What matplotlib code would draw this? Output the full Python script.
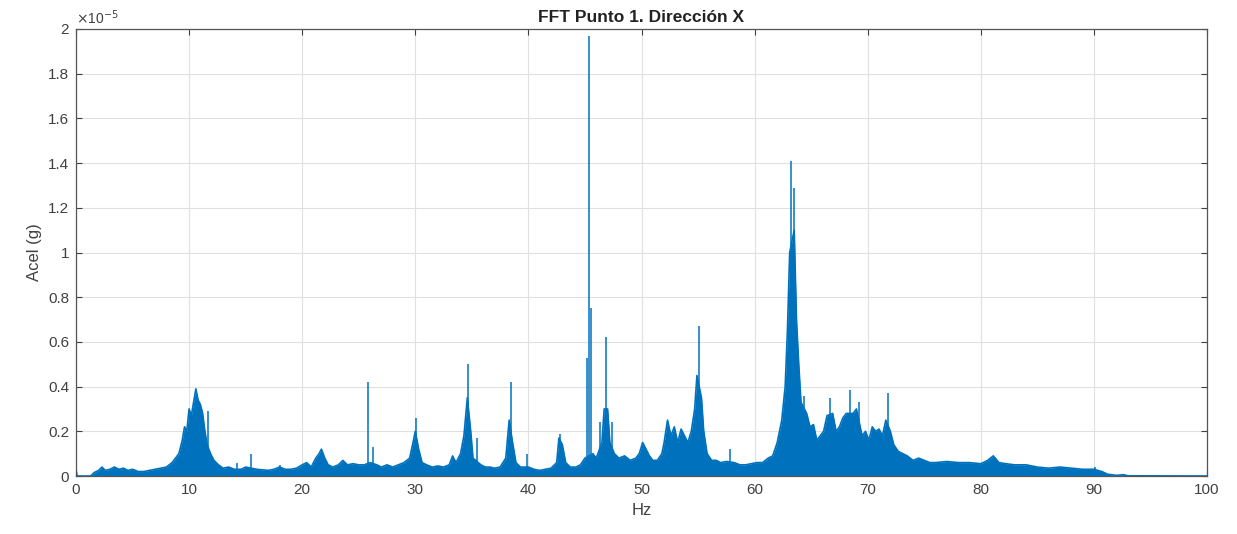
import numpy as np
import matplotlib.pyplot as plt

plt.rcParams['font.family'] = ['Liberation Sans', 'DejaVu Sans']

# broadband part of the spectrum (Hz, acceleration in units of 1e-5 g)
freq_env = [0.0, 0.1, 1.3, 1.6, 2.0, 2.3, 2.6, 3.0, 3.4, 3.8, 4.2, 4.6, 5.0, 5.5, 6.0,
            6.5, 7.0, 7.5, 8.0, 8.5, 8.8, 9.1, 9.4, 9.6, 9.8, 10.0, 10.2, 10.4, 10.6,
            10.8, 11.0, 11.2, 11.4, 11.6, 11.9, 12.2, 12.6, 13.0, 13.5, 14.0, 14.6,
            15.0, 16.0, 17.0, 17.5, 18.0, 18.5, 19.0, 19.5, 20.0, 20.4, 20.8, 21.2,
            21.5, 21.7, 22.0, 22.3, 22.7, 23.2, 23.6, 24.0, 24.5, 25.0, 25.5, 26.0,
            26.6, 27.0, 27.5, 28.0, 28.5, 29.0, 29.5, 29.8, 30.0, 30.3, 30.6, 31.0,
            31.5, 32.0, 32.5, 33.0, 33.3, 33.6, 34.0, 34.3, 34.6, 34.9, 35.1, 35.8,
            36.2, 36.6, 37.0, 37.5, 38.0, 38.3, 38.6, 38.9, 39.3, 40.0, 40.5, 41.0,
            41.5, 42.0, 42.5, 42.7, 43.0, 43.3, 43.7, 44.2, 44.6, 45.0, 45.7, 46.0,
            46.5, 46.7, 47.0, 47.2, 47.6, 48.0, 48.5, 49.0, 49.5, 49.8, 50.1, 50.4,
            50.7, 51.0, 51.4, 51.8, 52.0, 52.3, 52.6, 52.9, 53.2, 53.5, 53.8, 54.1,
            54.4, 54.7, 54.9, 55.3, 55.5, 55.8, 56.2, 56.6, 57.0, 57.5, 58.2, 58.7,
            59.2, 59.7, 60.2, 60.7, 61.2, 61.6, 62.0, 62.4, 62.7, 62.9, 63.1, 63.5,
            63.7, 63.9, 64.1, 64.6, 64.9, 65.2, 65.5, 65.8, 66.1, 66.4, 66.9, 67.2,
            67.5, 67.8, 68.1, 68.7, 69.0, 69.5, 69.8, 70.1, 70.4, 70.7, 71.0, 71.3,
            71.6, 72.0, 72.3, 72.7, 73.1, 73.5, 74.0, 74.5, 75.0, 75.5, 76.0, 77.0,
            78.0, 79.0, 80.0, 80.6, 81.1, 81.6, 82.2, 83.0, 84.0, 85.0, 86.0, 87.0,
            88.0, 89.0, 90.0, 90.7, 91.2, 92.0, 92.6, 93.0, 100.0]
acel_env = [0.03, 0.0, 0.0, 0.015, 0.025, 0.04, 0.025, 0.03, 0.04, 0.03, 0.035, 0.025,
            0.03, 0.02, 0.02, 0.025, 0.03, 0.035, 0.04, 0.06, 0.08, 0.1, 0.16, 0.22,
            0.2, 0.3, 0.27, 0.33, 0.39, 0.34, 0.32, 0.28, 0.2, 0.14, 0.1, 0.07, 0.05,
            0.035, 0.04, 0.03, 0.03, 0.04, 0.03, 0.025, 0.03, 0.04, 0.03, 0.03, 0.035,
            0.05, 0.06, 0.04, 0.08, 0.1, 0.12, 0.08, 0.05, 0.04, 0.05, 0.07, 0.05,
            0.055, 0.05, 0.05, 0.06, 0.05, 0.04, 0.05, 0.04, 0.05, 0.06, 0.08, 0.15,
            0.2, 0.12, 0.06, 0.05, 0.04, 0.045, 0.04, 0.05, 0.09, 0.06, 0.1, 0.18,
            0.35, 0.2, 0.08, 0.05, 0.04, 0.04, 0.035, 0.04, 0.08, 0.25, 0.15, 0.06,
            0.04, 0.04, 0.03, 0.025, 0.03, 0.035, 0.06, 0.17, 0.14, 0.06, 0.04, 0.04,
            0.05, 0.08, 0.1, 0.08, 0.15, 0.3, 0.3, 0.15, 0.1, 0.08, 0.09, 0.07, 0.08,
            0.1, 0.15, 0.12, 0.09, 0.07, 0.07, 0.1, 0.15, 0.25, 0.18, 0.22, 0.15, 0.21,
            0.18, 0.15, 0.2, 0.3, 0.45, 0.35, 0.2, 0.1, 0.07, 0.07, 0.06, 0.065, 0.06,
            0.05, 0.05, 0.055, 0.06, 0.06, 0.08, 0.09, 0.15, 0.25, 0.4, 0.65, 1.0, 1.1,
            0.7, 0.5, 0.33, 0.28, 0.22, 0.23, 0.16, 0.18, 0.2, 0.27, 0.28, 0.2, 0.22,
            0.26, 0.28, 0.28, 0.3, 0.18, 0.2, 0.16, 0.22, 0.2, 0.21, 0.18, 0.25, 0.2,
            0.14, 0.11, 0.1, 0.09, 0.07, 0.08, 0.07, 0.06, 0.06, 0.065, 0.06, 0.06,
            0.055, 0.07, 0.09, 0.06, 0.055, 0.05, 0.05, 0.04, 0.035, 0.04, 0.035, 0.03,
            0.03, 0.02, 0.008, 0.003, 0.006, 0.001, 0.0]

# narrow peaks (Hz, 1e-5 g)
spike_f = [11.7, 14.2, 15.5, 18.0, 25.8, 26.3, 30.05, 34.7, 35.5, 38.45, 39.9, 42.8,
           45.15, 45.4, 45.5, 46.3, 46.85, 47.35, 55.05, 57.85, 63.2, 63.45, 64.35,
           66.65, 68.45, 69.2, 71.8, 90.1]
spike_h = [0.29, 0.06, 0.1, 0.05, 0.42, 0.13, 0.26, 0.5, 0.17, 0.42, 0.1, 0.19,
           0.53, 1.97, 0.75, 0.24, 0.62, 0.24, 0.67, 0.12, 1.41, 1.29, 0.36,
           0.35, 0.385, 0.33, 0.37, 0.04]

blue = '#0072BD'
txt = '#404040'

fig = plt.figure(figsize=(12.37, 5.34), dpi=100)
ax = fig.add_axes([0.0614, 0.1086, 0.9144, 0.8371])

ax.fill_between(freq_env, 0, acel_env, color=blue, lw=0)
ax.plot(freq_env, acel_env, color=blue, lw=1.2)
ax.vlines(spike_f, 0, spike_h, color=blue, lw=1.1)

ax.set_xlim(0, 100)
ax.set_ylim(0, 2)
ax.set_xticks(np.arange(0, 101, 10))
ax.set_yticks(np.arange(0, 2.01, 0.2))
ax.set_yticklabels(['%g' % round(v, 1) for v in np.arange(0, 2.01, 0.2)])
ax.grid(True, color='#e0e0e0', lw=0.8)
ax.set_axisbelow(True)
ax.tick_params(direction='in', top=True, right=True, length=4, colors=txt,
               labelsize=11, pad=5)
for s in ax.spines.values():
    s.set_color('#555555')
    s.set_linewidth(0.9)

ax.set_xlabel('Hz', fontsize=12, color=txt)
ax.set_ylabel('Acel (g)', fontsize=12, color=txt)
ax.set_title('FFT Punto 1. Dirección X', fontsize=12.5, fontweight='bold',
             color='#222222', pad=5)
ax.text(0.0, 1.005, r'$\times$10$^{-5}$', transform=ax.transAxes, fontsize=10,
        color=txt, va='bottom', ha='left')

plt.savefig('out.png')
